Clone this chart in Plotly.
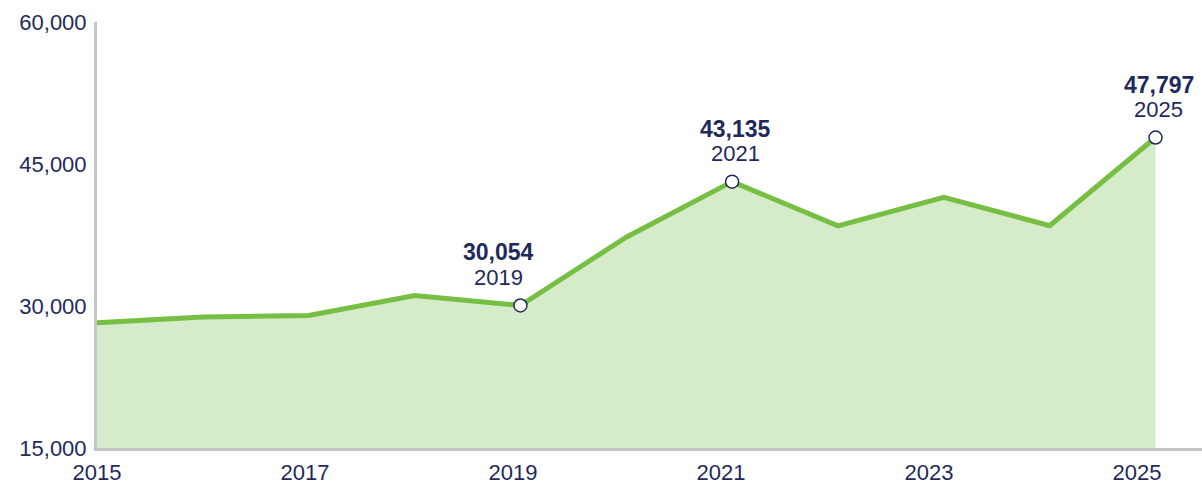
import plotly.graph_objects as go

years = [2015, 2016, 2017, 2018, 2019, 2020, 2021, 2022, 2023, 2024, 2025]
values = [28230, 28830, 29000, 31110, 30054, 37270, 43135, 38460, 41490, 38490, 47797]

highlight_years = [2019, 2021, 2025]
highlight_values = [30054, 43135, 47797]
highlight_xshift = [-22, 3, 3]

y_ticks = [15000, 30000, 45000, 60000]
x_tick_years = [2015, 2017, 2019, 2021, 2023, 2025]

NAVY = "#1f2a5c"
GREEN = "#76bf43"
FILL = "#d6ebc9"
AXIS = "#c6c6c6"
FONT = "Liberation Sans"

# tick labels in the reference sit on a slightly tighter spacing than the data
LABEL_SCALE = 104.0 / 105.85
tick_positions = [2015 + (t - 2015) * LABEL_SCALE for t in x_tick_years]

fig = go.Figure()
fig.add_trace(go.Scatter(
    x=years, y=values, mode="lines",
    line=dict(color=GREEN, width=5),
    fill="tozeroy", fillcolor=FILL,
    hoverinfo="skip", showlegend=False,
))
fig.add_trace(go.Scatter(
    x=highlight_years, y=highlight_values, mode="markers",
    marker=dict(size=13, color="white", line=dict(color=NAVY, width=1.5)),
    hoverinfo="skip", showlegend=False,
))

annotations = []
for yr, v, xs in zip(highlight_years, highlight_values, highlight_xshift):
    annotations.append(dict(
        x=yr, y=v, xref="x", yref="y", text=f"<b>{v:,}</b>",
        showarrow=False, xshift=xs, yshift=53, yanchor="middle",
        font=dict(family=FONT, size=23, color=NAVY),
    ))
    annotations.append(dict(
        x=yr, y=v, xref="x", yref="y", text=str(yr),
        showarrow=False, xshift=xs, yshift=28, yanchor="middle",
        font=dict(family=FONT, size=22, color=NAVY),
    ))

fig.update_layout(
    width=1202, height=484,
    margin=dict(l=97, r=0, t=22, b=36),
    paper_bgcolor="white", plot_bgcolor="white",
    font=dict(family=FONT, size=22, color=NAVY),
    xaxis=dict(
        range=[2015, 2025.439],
        tickvals=tick_positions, ticktext=[str(t) for t in x_tick_years],
        showgrid=False, zeroline=False,
        showline=True, linecolor=AXIS, linewidth=3,
        ticks="", ticklabelstandoff=3,
        tickfont=dict(family=FONT, size=22, color=NAVY),
    ),
    yaxis=dict(
        range=[15000, 60000],
        tickvals=y_ticks, tickformat=",d",
        showgrid=False, zeroline=False,
        showline=True, linecolor=AXIS, linewidth=3,
        ticks="", ticklabelstandoff=3,
        tickfont=dict(family=FONT, size=22, color=NAVY),
    ),
    annotations=annotations,
)

fig.write_html(
    "out.html",
    config={"displayModeBar": False},
    post_script="document.body.style.margin='0';",
)
